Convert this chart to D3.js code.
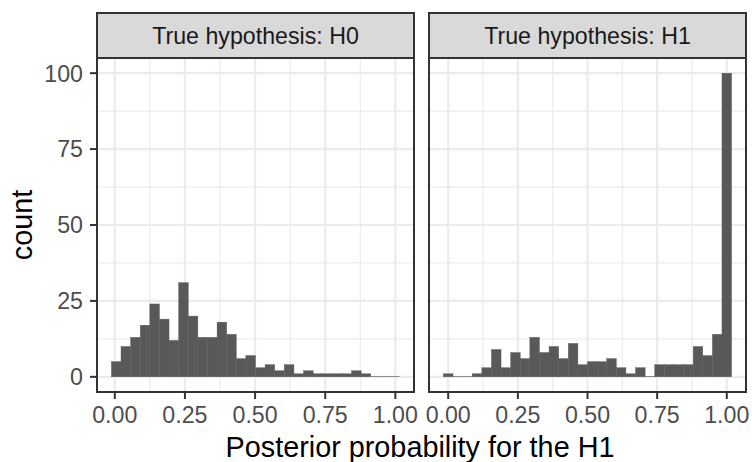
<!DOCTYPE html>
<html>
<head>
<meta charset="utf-8">
<script src="https://cdn.jsdelivr.net/npm/d3@7"></script>
<style>
  html, body { margin: 0; padding: 0; background: #ffffff; }
  svg { display: block; font-family: "Liberation Sans", Arial, sans-serif; }
</style>
</head>
<body>
<svg id="chart" width="752" height="462"></svg>
<script>
// ---- data ----
const panelTitles = ["True hypothesis: H0", "True hypothesis: H1"];
const h0Counts = [5,10,13,17,24,19,12,31,20,13,13,18,14,6,7,3,4,2,4,1,2,1,1,1,1,2,1,0,0,0];
const h1Counts = [1,0,0,1,3,9,3,8,6,13,8,10,6,11,4,5,5,6,3,1,3,0,4,4,4,4,10,7,14,100];
const h0BinStart = -0.0121, h0BinWidth = 0.03424;
const h1BinStart = -0.0172, h1BinWidth = 0.03448;
const xTicks = [0, 0.25, 0.5, 0.75, 1];
const xMinor = [0.125, 0.375, 0.625, 0.875];
const yTicks = [0, 25, 50, 75, 100];
const yMinor = [12.5, 37.5, 62.5, 87.5];
const xTitle = "Posterior probability for the H1";
const yTitle = "count";

// ---- layout ----
const svg = d3.select("#chart");
const panelTop = 58, panelBottom = 392, stripTop = 13;
const panelsX = [[97, 414], [429, 746]];
const yScale = d3.scaleLinear().domain([-5, 105]).range([panelBottom, panelTop]);
const gridCol = "#EBEBEB", borderCol = "#333333", barCol = "#595959", tickTextCol = "#4D4D4D";
const tickFont = 23.2, titleFont = 28.8;

const panels = [
  {title: panelTitles[0], counts: h0Counts, start: h0BinStart, width: h0BinWidth},
  {title: panelTitles[1], counts: h1Counts, start: h1BinStart, width: h1BinWidth}
];

panels.forEach((p, i) => {
  const [x0, x1] = panelsX[i];
  const end = p.start + p.width * p.counts.length;
  const ex = (end - p.start) * 0.05;
  const xScale = d3.scaleLinear().domain([p.start - ex, end + ex]).range([x0, x1]);
  const bins = p.counts.map((c, k) => ({x0: p.start + k * p.width, x1: p.start + (k + 1) * p.width, c}));
  const g = svg.append("g");

  // minor grid
  g.selectAll(".ymin").data(yMinor).join("line")
    .attr("x1", x0).attr("x2", x1)
    .attr("y1", d => yScale(d)).attr("y2", d => yScale(d))
    .attr("stroke", gridCol).attr("stroke-width", 1.2);
  g.selectAll(".xmin").data(xMinor).join("line")
    .attr("y1", panelTop).attr("y2", panelBottom)
    .attr("x1", d => xScale(d)).attr("x2", d => xScale(d))
    .attr("stroke", gridCol).attr("stroke-width", 1.2);
  // major grid
  g.selectAll(".ymaj").data(yTicks).join("line")
    .attr("x1", x0).attr("x2", x1)
    .attr("y1", d => yScale(d)).attr("y2", d => yScale(d))
    .attr("stroke", gridCol).attr("stroke-width", 2.2);
  g.selectAll(".xmaj").data(xTicks).join("line")
    .attr("y1", panelTop).attr("y2", panelBottom)
    .attr("x1", d => xScale(d)).attr("x2", d => xScale(d))
    .attr("stroke", gridCol).attr("stroke-width", 2.2);

  // bars
  g.selectAll(".bar").data(bins).join("rect")
    .attr("x", d => xScale(d.x0))
    .attr("width", d => xScale(d.x1) - xScale(d.x0))
    .attr("y", d => Math.min(yScale(d.c), yScale(0) - 0.8))
    .attr("height", d => Math.max(yScale(0) - yScale(d.c), 0.8))
    .attr("fill", barCol)
    .attr("stroke", d => d.c === 0 ? "none" : barCol)
    .attr("stroke-width", 0.4)
    .attr("opacity", d => d.c === 0 ? 0.8 : 1);

  // panel border
  g.append("rect").attr("x", x0).attr("y", panelTop).attr("width", x1 - x0).attr("height", panelBottom - panelTop)
    .attr("fill", "none").attr("stroke", borderCol).attr("stroke-width", 2);

  // strip
  g.append("rect").attr("x", x0).attr("y", stripTop).attr("width", x1 - x0).attr("height", panelTop - stripTop)
    .attr("fill", "#D9D9D9").attr("stroke", borderCol).attr("stroke-width", 2);
  g.append("text").attr("x", (x0 + x1) / 2).attr("y", 44)
    .attr("text-anchor", "middle").attr("font-size", tickFont).attr("fill", "#1A1A1A")
    .text(p.title);

  // x axis ticks
  g.selectAll(".xt").data(xTicks).join("line")
    .attr("x1", d => xScale(d)).attr("x2", d => xScale(d))
    .attr("y1", panelBottom).attr("y2", panelBottom + 7)
    .attr("stroke", borderCol).attr("stroke-width", 2);
  g.selectAll(".xl").data(xTicks).join("text")
    .attr("x", d => xScale(d)).attr("y", 423)
    .attr("text-anchor", "middle").attr("font-size", tickFont).attr("fill", tickTextCol)
    .text(d => d3.format(".2f")(d));
});

// y axis (left panel only)
const ya = svg.append("g");
ya.selectAll("line").data(yTicks).join("line")
  .attr("x1", 90).attr("x2", 97)
  .attr("y1", d => yScale(d)).attr("y2", d => yScale(d))
  .attr("stroke", borderCol).attr("stroke-width", 2);
ya.selectAll("text").data(yTicks).join("text")
  .attr("x", 83).attr("y", d => yScale(d))
  .attr("dy", "0.36em")
  .attr("text-anchor", "end").attr("font-size", tickFont).attr("fill", tickTextCol)
  .text(d => d);

// titles
svg.append("text").attr("x", 420).attr("y", 457)
  .attr("text-anchor", "middle").attr("font-size", titleFont).attr("fill", "#000")
  .text(xTitle);
svg.append("text")
  .attr("transform", `translate(32, ${(panelTop + panelBottom) / 2}) rotate(-90)`)
  .attr("text-anchor", "middle").attr("font-size", titleFont).attr("fill", "#000")
  .text(yTitle);
</script>
</body>
</html>
